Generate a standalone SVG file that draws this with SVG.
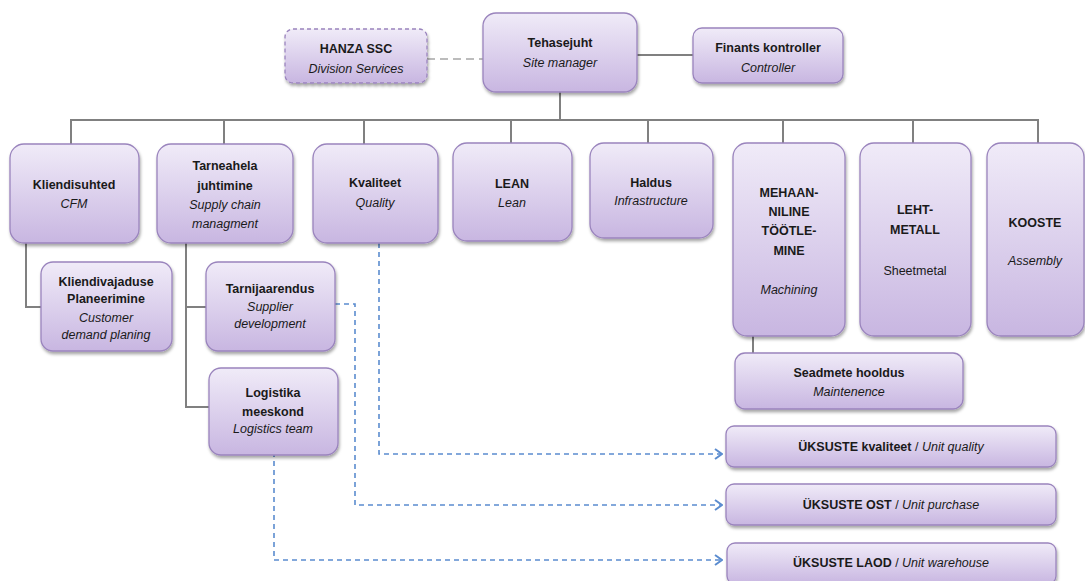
<svg xmlns="http://www.w3.org/2000/svg" width="1085" height="581" viewBox="0 0 1085 581">
<defs>
<linearGradient id="g" x1="0" y1="0" x2="0" y2="1">
<stop offset="0" stop-color="#f0ebf8"/>
<stop offset="1" stop-color="#c8b6e1"/>
</linearGradient>
<filter id="sh" x="-10%" y="-10%" width="130%" height="140%">
<feDropShadow dx="1" dy="2.5" stdDeviation="1.5" flood-color="#000" flood-opacity="0.35"/>
</filter>
<marker id="ah" viewBox="0 0 10 12" refX="9" refY="6" markerWidth="10" markerHeight="12" markerUnits="userSpaceOnUse" orient="auto">
<path d="M2,1 L9,6 L2,11" fill="none" stroke="#5b8ccf" stroke-width="2"/>
</marker>
<style>
.box{fill:url(#g);stroke:#9a84bd;stroke-width:1.3;filter:url(#sh)}
.dbox{fill:url(#g);stroke:#9a84bd;stroke-width:1.3;stroke-dasharray:4 3;filter:url(#sh)}
text{font-family:"Liberation Sans",Arial,sans-serif;font-size:12.5px;fill:#1a1a1a;text-anchor:middle}
.b{font-weight:bold}
.i{font-style:italic}
.gl{fill:none;stroke:#808080;stroke-width:2}
.gd{fill:none;stroke:#a6a6a6;stroke-width:1.6;stroke-dasharray:8 5}
.bl{fill:none;stroke:#5b8ccf;stroke-width:1.6;stroke-dasharray:5 4}
</style>
</defs>

<g id="connectors">
<path class="gd" d="M427,59 H483"/>
<path class="gl" d="M637,55 H693"/>
<path class="gl" d="M560,92 V120"/>
<path class="gl" d="M71,145 V120 H1038 V145"/>
<path class="gl" d="M224,120 V145 M364,120 V145 M511,120 V145 M648,120 V145 M783,120 V145 M913,120 V145"/>
<path class="gl" d="M26,243 V307 H41"/>
<path class="gl" d="M186,243 V407 H209 M186,307 H206"/>
<path class="gl" d="M753,336 V353"/>
<path class="bl" d="M379,243 V454 H722" marker-end="url(#ah)"/>
<path class="bl" d="M335,304 H355 V505 H722" marker-end="url(#ah)"/>
<path class="bl" d="M274,452 V560 H722" marker-end="url(#ah)"/>
</g>

<g id="hanza"><rect class="dbox" x="285" y="29" width="142" height="54" rx="8"/>
<text x="356" y="53" class="b">HANZA SSC</text><text x="356" y="73" class="i">Division Services</text></g>

<g id="tehasejuht"><rect class="box" x="483" y="13" width="154" height="79" rx="13"/>
<text x="560" y="47" class="b">Tehasejuht</text><text x="560" y="67" class="i">Site manager</text></g>

<g id="finants"><rect class="box" x="693" y="28" width="150" height="55" rx="9"/>
<text x="768" y="52" class="b">Finants kontroller</text><text x="768" y="72" class="i">Controller</text></g>

<g id="kliendisuhted"><rect class="box" x="10" y="144" width="129" height="99" rx="14"/>
<text x="74" y="189" class="b">Kliendisuhted</text><text x="74" y="208" class="i">CFM</text></g>

<g id="tarneahela"><rect class="box" x="157" y="144" width="136" height="99" rx="14"/>
<text x="225" y="170" class="b">Tarneahela</text><text x="225" y="190" class="b">juhtimine</text>
<text x="225" y="209" class="i">Supply chain</text><text x="225" y="228" class="i">managment</text></g>

<g id="kvaliteet"><rect class="box" x="313" y="144" width="125" height="99" rx="14"/>
<text x="375" y="187" class="b">Kvaliteet</text><text x="375" y="207" class="i">Quality</text></g>

<g id="lean"><rect class="box" x="453" y="143" width="119" height="98" rx="14"/>
<text x="512" y="188" class="b">LEAN</text><text x="512" y="207" class="i">Lean</text></g>

<g id="haldus"><rect class="box" x="590" y="143" width="123" height="95" rx="14"/>
<text x="651" y="187" class="b">Haldus</text><text x="651" y="205" class="i">Infrastructure</text></g>

<g id="mehaan"><rect class="box" x="733" y="143" width="112" height="193" rx="14"/>
<text x="789" y="197" class="b">MEHAAN-</text><text x="789" y="216" class="b">NILINE</text>
<text x="789" y="235" class="b">TÖÖTLE-</text><text x="789" y="255" class="b">MINE</text>
<text x="789" y="294" class="i">Machining</text></g>

<g id="leht"><rect class="box" x="860" y="143" width="111" height="193" rx="14"/>
<text x="915" y="214" class="b">LEHT-</text><text x="915" y="234" class="b">METALL</text>
<text x="915" y="275">Sheetmetal</text></g>

<g id="kooste"><rect class="box" x="987" y="143" width="97" height="193" rx="14"/>
<text x="1035" y="227" class="b">KOOSTE</text><text x="1035" y="265" class="i">Assembly</text></g>

<g id="kliendivajaduse"><rect class="box" x="41" y="262" width="131" height="89" rx="12"/>
<text x="106" y="286" class="b">Kliendivajaduse</text><text x="106" y="303" class="b">Planeerimine</text>
<text x="106" y="322" class="i">Customer</text><text x="106" y="339" class="i">demand planing</text></g>

<g id="tarnijaarendus"><rect class="box" x="206" y="262" width="129" height="89" rx="12"/>
<text x="270" y="293" class="b">Tarnijaarendus</text><text x="270" y="311" class="i">Supplier</text>
<text x="270" y="328" class="i">development</text></g>

<g id="logistika"><rect class="box" x="209" y="368" width="129" height="87" rx="12"/>
<text x="273" y="397" class="b">Logistika</text><text x="273" y="416" class="b">meeskond</text>
<text x="273" y="433" class="i">Logistics team</text></g>

<g id="seadmete"><rect class="box" x="735" y="353" width="228" height="56" rx="10"/>
<text x="849" y="377" class="b">Seadmete hooldus</text><text x="849" y="396" class="i">Maintenence</text></g>

<g id="unitquality"><rect class="box" x="726" y="426" width="330" height="41" rx="8"/>
<text x="891" y="451"><tspan class="b">ÜKSUSTE kvaliteet</tspan> / <tspan class="i">Unit quality</tspan></text></g>

<g id="unitpurchase"><rect class="box" x="726" y="484" width="330" height="41" rx="8"/>
<text x="891" y="509"><tspan class="b">ÜKSUSTE OST</tspan> / <tspan class="i">Unit purchase</tspan></text></g>

<g id="unitwarehouse"><rect class="box" x="727" y="543" width="329" height="41" rx="8"/>
<text x="891" y="567"><tspan class="b">ÜKSUSTE LAOD</tspan> / <tspan class="i">Unit warehouse</tspan></text></g>
</svg>
